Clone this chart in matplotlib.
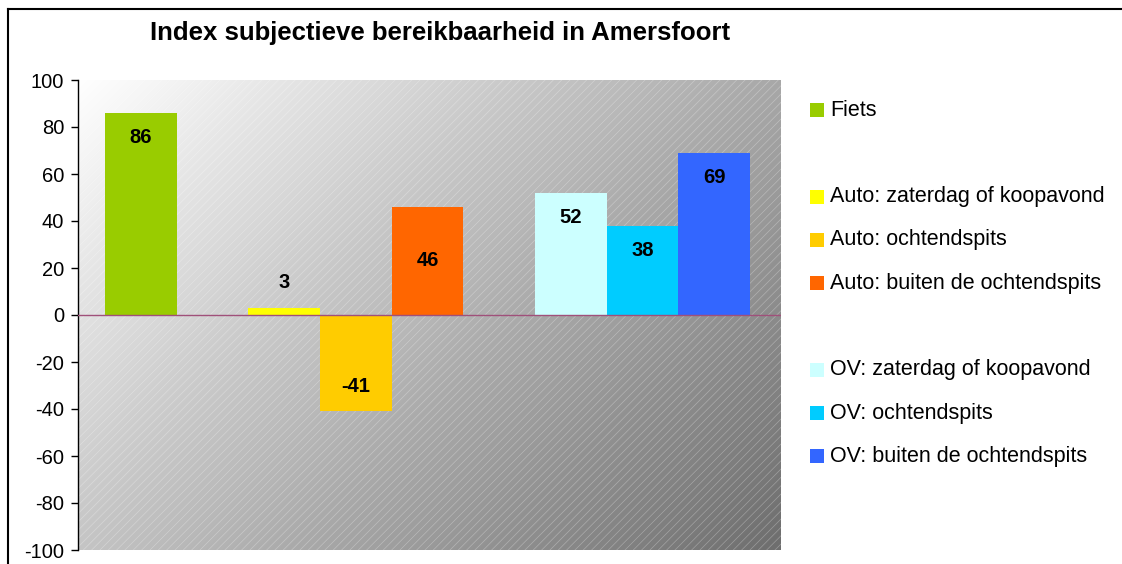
import numpy as np
import matplotlib
matplotlib.use('Agg')
import matplotlib.pyplot as plt
from matplotlib.patches import Rectangle
from matplotlib.lines import Line2D

plt.rcParams['font.family'] = ['Liberation Sans', 'DejaVu Sans']
plt.rcParams['axes.unicode_minus'] = False
plt.rcParams['hatch.linewidth'] = 0.5

series = ['Fiets',
          'Auto: zaterdag of koopavond', 'Auto: ochtendspits', 'Auto: buiten de ochtendspits',
          'OV: zaterdag of koopavond', 'OV: ochtendspits', 'OV: buiten de ochtendspits']
values = [86, 3, -41, 46, 52, 38, 69]
colors = ['#99CC00', '#FFFF00', '#FFCC00', '#FF6600', '#CCFFFF', '#00CCFF', '#3366FF']
groups = [0, 1, 1, 1, 2, 2, 2]
label_mode = ['end', 'end', 'end', 'center', 'end', 'end', 'end']

W, H = 1122, 564
fig = plt.figure(figsize=(W / 100, H / 100), dpi=100)
ax = fig.add_axes([78 / W, 14 / H, 703 / W, 470 / H])

# slot positions: one empty slot between groups
xpos = [i + g for i, g in enumerate(groups)]
ax.set_xlim(-0.875, max(xpos) + 0.93)
ax.set_ylim(-100, 100)

# gradient background, white top-left to grey bottom-right
nx, ny = 400, 300
gx, gy = np.meshgrid(np.linspace(0, 703, nx), np.linspace(0, 470, ny))
t = (gx + gy) / (703 + 470)
shade = 1 - 0.57 * t
img = np.dstack([shade, shade, shade])
ax.imshow(img, extent=[0, 1, 0, 1], transform=ax.transAxes, origin='upper',
          aspect='auto', zorder=0, interpolation='bilinear')
ax.add_patch(Rectangle((0, 0), 1, 1, transform=ax.transAxes, facecolor='none',
                       edgecolor=(1, 1, 1, 0.3), hatch='////', linewidth=0, zorder=0.5))

ax.bar(xpos, values, width=1.0, color=colors, zorder=2, linewidth=0)
ax.axhline(0, color='#A0507A', linewidth=1, zorder=3)

for x, v, m in zip(xpos, values, label_mode):
    if m == 'center':
        y = v / 2
    elif abs(v) < 10:
        y = v + 11
    else:
        y = v - np.sign(v) * 10.5
    ax.text(x, y, str(v), ha='center', va='center', fontsize=14.5, fontweight='bold', zorder=4)

ax.set_yticks(np.arange(-100, 101, 20))
ax.set_xticks([])
ax.tick_params(axis='y', labelsize=14.5, length=5, width=1, direction='out', pad=5)
for s in ['top', 'right', 'bottom']:
    ax.spines[s].set_visible(False)
ax.spines['left'].set_linewidth(1)

fig.text(440 / W, 1 - 33 / H, 'Index subjectieve bereikbaarheid in Amersfoort',
         ha='center', va='center', fontsize=18.5, fontweight='bold')

# legend with blank rows between groups
row = 0
prev = groups[0]
for name, c, g in zip(series, colors, groups):
    if g != prev:
        row += 1
        prev = g
    yc = 110 + row * 43.3
    fig.patches.append(Rectangle((810 / W, 1 - (yc + 7) / H), 14 / W, 14 / H,
                                 transform=fig.transFigure, facecolor=c, edgecolor='none'))
    fig.text(830 / W, 1 - yc / H, name, ha='left', va='center', fontsize=15.5)
    row += 1

# outer frame (top and left edges visible)
fig.add_artist(Line2D([8 / W, 1], [1 - 9 / H, 1 - 9 / H], color='black', lw=1.5))
fig.add_artist(Line2D([8 / W, 8 / W], [0, 1 - 9 / H], color='black', lw=1.5))

fig.savefig('out.png', dpi=100)
